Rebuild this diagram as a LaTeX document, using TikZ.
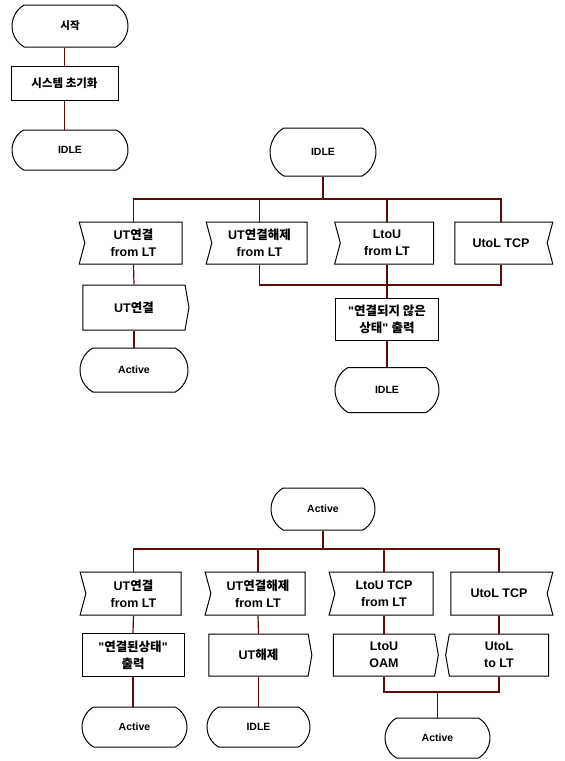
\documentclass[tikz,border=0pt]{standalone}
\usepackage{fontspec}
\setmainfont{Liberation Sans}
\newfontfamily\kr{Noto Sans CJK KR}
\usetikzlibrary{shapes.symbols,shapes.misc}
\newcommand\kor[1]{{\kr #1}}
\newcommand\qq{\textquotedbl}
\definecolor{linedark}{RGB}{95,10,10}
\tikzset{
  conn/.style={draw=linedark, line width=1.2pt},
  state/.style={rounded rectangle, rounded rectangle arc length=120, draw, line width=1pt,
    inner sep=0pt, minimum height=42, minimum width=106, font=\bfseries\fontsize{10.5}{13}\selectfont},
  boxfont/.style={font=\bfseries\fontsize{12.5}{17}\selectfont},
  tasknode/.style={rectangle, draw, line width=1pt, inner sep=0pt, align=center, boxfont,
    minimum height=42, minimum width=103},
  inl/.style={signal, signal to=nowhere, signal from=west, signal pointer angle=150, draw,
    line width=1pt, inner sep=0pt, align=center, boxfont, minimum height=42, minimum width=101},
  inr/.style={inl, signal from=east},
  outr/.style={signal, signal to=east, signal from=nowhere, signal pointer angle=160, draw,
    line width=1pt, inner sep=0pt, align=center, boxfont, minimum height=42, minimum width=104},
  outl/.style={outr, signal to=west},
}
\begin{document}
\begin{tikzpicture}[x=1pt,y=-1pt]
\fill[white] (0,0) rectangle (565,761);
\useasboundingbox (0,0) rectangle (565,761);

% ---------- top-left ----------
\node[state, minimum width=116] (start) at (70,26) {\kor{시작}};
\node[tasknode, minimum width=107, minimum height=34, font=\bfseries\fontsize{11.5}{14}\selectfont] (init) at (64.5,83) {\kor{시스템 초기화}};
\node[state, minimum width=116, minimum height=40] (idle0) at (70,150) {IDLE};
\draw[conn] (init.north |- start.south) -- (init.north);
\draw[conn] (init.south) -- (init.south |- idle0.north);

% ---------- IDLE transitions ----------
\node[state, minimum width=106, minimum height=48] (idleA) at (323,152) {IDLE};
\coordinate (bA) at (323,199);
\node[inl, minimum width=103] (a1) at (133.5,243) {UT\kor{연결}\\from LT};
\node[inl] (a2) at (259.5,243) {UT\kor{연결해제}\\from LT};
\node[inl, minimum width=99] (a3) at (387,243) {LtoU\\from LT};
\node[inr, minimum width=98] (a4) at (501,243) {UtoL TCP};
\draw[conn] (idleA.south) -- (bA);
\draw[conn] (a1.north) |- (a4.north |- bA) -- (a4.north);
\draw[conn] (a2.north) -- (a2.north |- bA);
\draw[conn] (a3.north) -- (a3.north |- bA);

\node[outr, minimum width=106, minimum height=45] (a1o) at (134,307.5) {UT\kor{연결}};
\node[state, minimum width=108, minimum height=44] (act1) at (134,370) {Active};
\draw[conn] (a1.south) -- (a1o.north);
\draw[conn] (a1o.south) -- (act1.north);

\coordinate (mA) at (387,285);
\draw[conn] (a2.south) |- (a4.south |- mA) -- (a4.south);
\node[tasknode, minimum width=103, minimum height=42] (t1) at (387,319) {\qq\kor{연결되지 않은}\\\kor{상태}\qq\ \kor{출력}};
\node[state, minimum width=104, minimum height=45] (idle2) at (387,390) {IDLE};
\draw[conn] (a3.south) -- (t1.north);
\draw[conn] (t1.south) -- (idle2.north);

% ---------- Active transitions ----------
\node[state, minimum width=104, minimum height=42] (actA) at (323,509) {Active};
\coordinate (bB) at (323,549);
\node[inl, minimum width=101, minimum height=43] (c1) at (133.5,593.5) {UT\kor{연결}\\from LT};
\node[inl, minimum width=100, minimum height=43] (c2) at (258,593.5) {UT\kor{연결해제}\\from LT};
\node[inl, minimum width=104, minimum height=43] (c3) at (384,593.5) {LtoU TCP\\from LT};
\node[inr, minimum width=102, minimum height=43] (c4) at (499,593.5) {UtoL TCP};
\draw[conn] (actA.south) -- (bB);
\draw[conn] (c1.north) |- (c4.north |- bB) -- (c4.north);
\draw[conn] (c2.north) -- (c2.north |- bB);
\draw[conn] (c3.north) -- (c3.north |- bB);

\node[tasknode, minimum width=102, minimum height=43] (t2) at (133,655) {\qq\kor{연결된상태}\qq\\\kor{출력}};
\node[outr, minimum width=103] (c2o) at (258.5,655) {UT\kor{해제}};
\node[outr, minimum width=105] (c3o) at (384,655) {LtoU\\OAM};
\node[outl, minimum width=103] (c4o) at (499,655) {UtoL\\to LT};
\draw[conn] (c1.south) -- (t2.north);
\draw[conn] (c2.south) -- (c2o.north);
\draw[conn] (c3.south) -- (c3o.north);
\draw[conn] (c4.south) -- (c4o.north);

\node[state, minimum width=105, minimum height=40] (act2) at (134.5,727) {Active};
\node[state, minimum width=103, minimum height=40] (idle3) at (258.5,727) {IDLE};
\draw[conn] (t2.south) -- (t2.south |- act2.north);
\draw[conn] (c2o.south) -- (idle3.north);

\node[state, minimum width=105, minimum height=40] (act3) at (437.5,738) {Active};
\coordinate (mB) at (437.5,692);
\draw[conn] (c3o.south) |- (c4o.south |- mB) -- (c4o.south);
\draw[conn] (mB) -- (act3.north);
\end{tikzpicture}
\end{document}
